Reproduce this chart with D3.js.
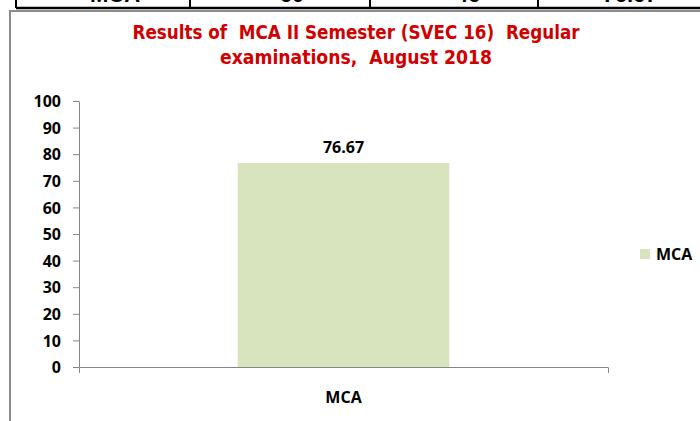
<!DOCTYPE html>
<html>
<head>
<meta charset="utf-8">
<script src="https://cdn.jsdelivr.net/npm/d3@7"></script>
<style>
  body { margin: 0; background: #fff; }
  svg { display: block; }
</style>
</head>
<body>
<svg id="chart" width="700" height="421"></svg>
<script>
// data
const categories = ["MCA"]
const passPercent = [76.67]
const yTicks = [0, 10, 20, 30, 40, 50, 60, 70, 80, 90, 100]
const tableRow = ["MCA", "60", "46", "76.67"]   // row of the table above, mostly cut off
const titleLines = ["Results of  MCA II Semester (SVEC 16)  Regular", "examinations,  August 2018"]

const barColor = "#d7e4bd"
const axisColor = "#868686"
const labelFont = "'Open Sans', 'DejaVu Sans', sans-serif"

let svg = d3.select("#chart")

// table row peeking in at the top
let cellEdges = [16, 190, 370, 538]
let cellCentres = [115, 292, 468, 630]
svg.append("line")
    .attr("x1", 16).attr("x2", 700)
    .attr("y1", 8).attr("y2", 8)
    .attr("stroke", "#000")
    .attr("stroke-width", 2.5)
svg.selectAll(".cell-edge")
    .data(cellEdges)
    .join("line")
    .attr("class", "cell-edge")
    .attr("x1", d => d).attr("x2", d => d)
    .attr("y1", 0).attr("y2", 8)
    .attr("stroke", "#000")
    .attr("stroke-width", 2)
svg.selectAll(".cell-text")
    .data(tableRow)
    .join("text")
    .attr("class", "cell-text")
    .attr("x", (d, i) => cellCentres[i])
    .attr("y", 2)
    .attr("text-anchor", "middle")
    .style("font-family", "'Liberation Sans', Arial, sans-serif")
    .style("font-weight", "bold")
    .style("font-size", "22px")
    .text(d => d)

// chart frame (gray border, runs off the right and bottom)
svg.append("rect")
    .attr("x", 10).attr("y", 11)
    .attr("width", 720).attr("height", 440)
    .attr("fill", "none")
    .attr("stroke", "#8c8c8c")
    .attr("stroke-width", 2)

// title
let titleWidths = [447, 272]
svg.selectAll(".title")
    .data(titleLines)
    .join("text")
    .attr("class", "title")
    .attr("x", 356)
    .attr("y", (d, i) => 38.5 + i * 25)
    .attr("text-anchor", "middle")
    .attr("textLength", (d, i) => titleWidths[i])
    .attr("lengthAdjust", "spacingAndGlyphs")
    .style("white-space", "pre")
    .style("font-family", "'Liberation Sans Narrow', 'DejaVu Sans Condensed', sans-serif")
    .style("font-weight", "bold")
    .style("font-size", "20px")
    .style("fill", "#d00000")
    .text(d => d)

// scales
let yScale = d3.scaleLinear()
    .domain([0, 100])
    .range([367, 101])

let xScale = d3.scaleBand()
    .domain(categories)
    .range([79, 608])
    .paddingInner(0.6)   // excel gap width 150%
    .paddingOuter(0.3)

// y axis
let yAxis = svg.append("g")
    .attr("transform", "translate(79,0)")
    .call(d3.axisLeft(yScale)
        .tickValues(yTicks)
        .tickSize(6)
        .tickSizeOuter(0)
        .tickPadding(12)
    )
yAxis.selectAll("line, path").attr("stroke", axisColor)
yAxis.selectAll("text")
    .style("font-family", labelFont)
    .style("font-weight", "bold")
    .style("font-size", "16px")
    .attr("fill", "#000")
    .attr("dy", "0.36em")

// bars
svg.selectAll(".bar")
    .data(passPercent)
    .join("rect")
    .attr("class", "bar")
    .attr("x", (d, i) => xScale(categories[i]))
    .attr("width", xScale.bandwidth())
    .attr("y", d => yScale(d))
    .attr("height", d => yScale(0) - yScale(d))
    .attr("fill", barColor)

// x axis: ticks only at the two ends, as excel draws them
let xAxis = svg.append("g")
    .attr("transform", "translate(0,367)")
    .call(d3.axisBottom(xScale).tickSize(0).tickSizeOuter(6).tickPadding(25))
xAxis.select("path").attr("stroke", axisColor)
xAxis.selectAll("text")
    .style("font-family", labelFont)
    .style("font-weight", "bold")
    .style("font-size", "16px")
    .attr("fill", "#000")
    .attr("dy", 0)
    .attr("y", 36)

// value labels
svg.selectAll(".value")
    .data(passPercent)
    .join("text")
    .attr("class", "value")
    .attr("x", (d, i) => xScale(categories[i]) + xScale.bandwidth() / 2)
    .attr("y", d => yScale(d) - 10)
    .attr("text-anchor", "middle")
    .style("font-family", labelFont)
    .style("font-weight", "bold")
    .style("font-size", "16px")
    .text(d => d.toFixed(2))

// legend
let legend = svg.append("g").attr("transform", "translate(640,249)")
legend.append("rect")
    .attr("width", 10).attr("height", 10)
    .attr("fill", barColor)
legend.append("text")
    .attr("x", 16).attr("y", 11)
    .style("font-family", labelFont)
    .style("font-weight", "bold")
    .style("font-size", "16px")
    .text(categories[0])
</script>
</body>
</html>
